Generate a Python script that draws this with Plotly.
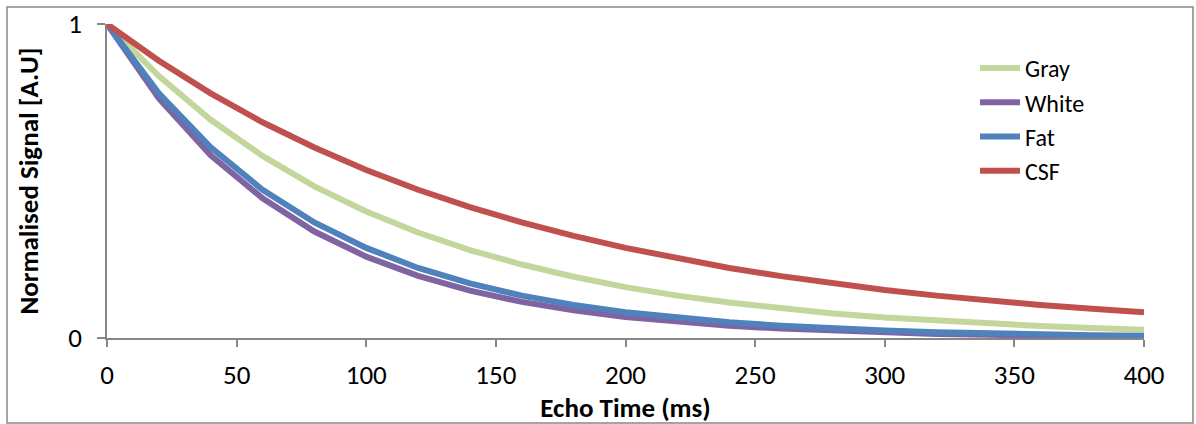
import plotly.graph_objects as go

# Echo times (ms)
echo_time = [0, 20, 40, 60, 80, 100, 120, 140, 160, 180, 200,
             220, 240, 260, 280, 300, 320, 340, 360, 380, 400]

# Normalised T2 decay signal per tissue
gray = [1.0, 0.834, 0.695, 0.580, 0.483, 0.403, 0.336, 0.280, 0.234, 0.195, 0.162,
        0.135, 0.113, 0.094, 0.078, 0.065, 0.055, 0.046, 0.038, 0.032, 0.026]
white = [1.0, 0.763, 0.582, 0.445, 0.339, 0.259, 0.198, 0.151, 0.115, 0.088, 0.067,
         0.051, 0.039, 0.030, 0.023, 0.017, 0.013, 0.010, 0.008, 0.006, 0.005]
fat = [1.0, 0.779, 0.607, 0.472, 0.368, 0.287, 0.223, 0.174, 0.135, 0.105, 0.082,
       0.064, 0.050, 0.039, 0.030, 0.024, 0.018, 0.014, 0.011, 0.009, 0.007]
csf = [1.0, 0.883, 0.779, 0.687, 0.607, 0.535, 0.472, 0.417, 0.368, 0.325, 0.287,
       0.253, 0.223, 0.197, 0.174, 0.153, 0.135, 0.119, 0.105, 0.093, 0.082]

series = [
    ("Gray", gray, "#C3D69B"),
    ("White", white, "#8064A2"),
    ("Fat", fat, "#4F81BD"),
    ("CSF", csf, "#C0504D"),
]

x_ticks = [0, 50, 100, 150, 200, 250, 300, 350, 400]
y_ticks = [0, 1]

FONT = "Carlito, Calibri, Lato, sans-serif"
AXIS_COLOR = "#868686"

fig = go.Figure()
for name, values, color in series:
    fig.add_trace(go.Scatter(
        x=echo_time, y=values, name=name, mode="lines",
        line=dict(color=color, width=6),
        legendgroup=name, cliponaxis=False,
    ))

W, H = 1196, 424
L, R, T, B = 107, 52, 24, 86
pw, ph = W - L - R, H - T - B


def px(xp):
    return (xp - L) / pw


def py(yp):
    return 1 - (yp - T) / ph


fig.update_layout(
    width=W, height=H,
    margin=dict(l=L, r=R, t=T, b=B, autoexpand=False),
    paper_bgcolor="white", plot_bgcolor="white",
    font=dict(family=FONT, color="#000000", size=26),
    showlegend=True,
    legend=dict(
        x=px(975), y=py(46), xanchor="left", yanchor="top",
        font=dict(family=FONT, size=24, color="#000000"),
        bgcolor="rgba(0,0,0,0)", tracegroupgap=0,
        itemwidth=40,
    ),
    xaxis=dict(
        range=[0, 400], tickvals=x_ticks,
        ticktext=[str(v) for v in x_ticks],
        showgrid=False, zeroline=False, automargin=False,
        showline=True, linecolor=AXIS_COLOR, linewidth=1.5,
        ticks="outside", ticklen=7, tickcolor=AXIS_COLOR, tickwidth=1.5,
        tickfont=dict(size=27), ticklabelstandoff=5,
        title=dict(text="<b>Echo Time (ms)</b>", font=dict(size=27), standoff=0),
    ),
    yaxis=dict(
        range=[0, 1], tickvals=y_ticks,
        ticktext=[str(v) for v in y_ticks],
        showgrid=False, zeroline=False, automargin=False,
        showline=True, linecolor=AXIS_COLOR, linewidth=1.5,
        ticks="outside", ticklen=8, tickcolor=AXIS_COLOR, tickwidth=1.5,
        tickfont=dict(size=27), ticklabelstandoff=10,
        title=dict(text="<b>Normalised Signal [A.U]</b>", font=dict(size=27), standoff=22),
    ),
)

# Outer chart border
fig.add_shape(
    type="rect", xref="paper", yref="paper",
    x0=px(7), x1=px(1193), y0=py(423), y1=py(7),
    line=dict(color=AXIS_COLOR, width=1.5), fillcolor="rgba(0,0,0,0)",
    layer="below",
)

fig.write_html("out.html")
